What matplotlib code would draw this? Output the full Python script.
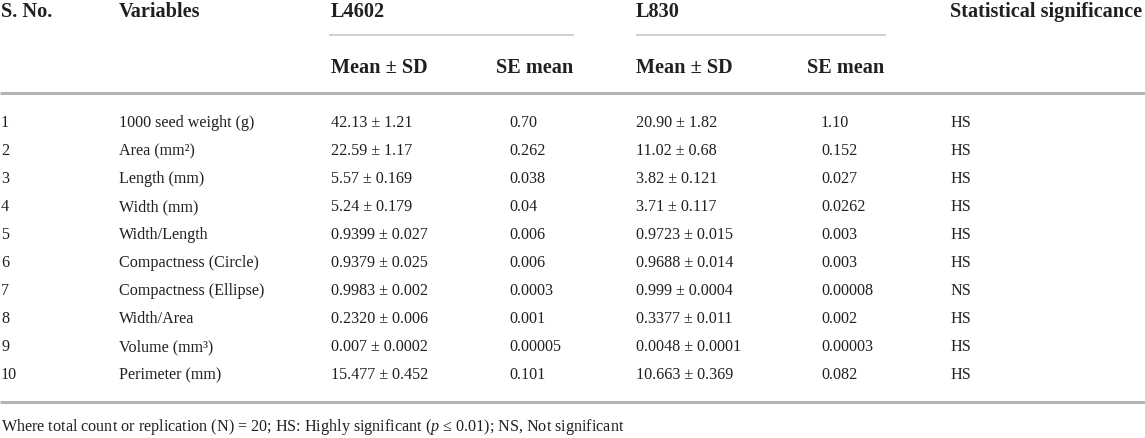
import matplotlib
matplotlib.use("Agg")
import matplotlib.pyplot as plt

plt.rcParams['font.family'] = ['Liberation Serif', 'DejaVu Serif']
plt.rcParams['mathtext.fontset'] = 'custom'
plt.rcParams['mathtext.rm'] = 'Liberation Serif'
plt.rcParams['mathtext.it'] = 'Liberation Serif:italic'

# table data
sno = ['1', '2', '3', '4', '5', '6', '7', '8', '9', '10']
variables = ['1000 seed weight (g)', 'Area (mm²)', 'Length (mm)', 'Width (mm)',
             'Width/Length', 'Compactness (Circle)', 'Compactness (Ellipse)',
             'Width/Area', 'Volume (mm³)', 'Perimeter (mm)']
l4602_mean_sd = ['42.13 ± 1.21', '22.59 ± 1.17', '5.57 ± 0.169', '5.24 ± 0.179',
                 '0.9399 ± 0.027', '0.9379 ± 0.025', '0.9983 ± 0.002',
                 '0.2320 ± 0.006', '0.007 ± 0.0002', '15.477 ± 0.452']
l4602_se = ['0.70', '0.262', '0.038', '0.04', '0.006', '0.006', '0.0003',
            '0.001', '0.00005', '0.101']
l830_mean_sd = ['20.90 ± 1.82', '11.02 ± 0.68', '3.82 ± 0.121', '3.71 ± 0.117',
                '0.9723 ± 0.015', '0.9688 ± 0.014', '0.999 ± 0.0004',
                '0.3377 ± 0.011', '0.0048 ± 0.0001', '10.663 ± 0.369']
l830_se = ['1.10', '0.152', '0.027', '0.0262', '0.003', '0.003', '0.00008',
           '0.002', '0.00003', '0.082']
significance = ['HS', 'HS', 'HS', 'HS', 'HS', 'HS', 'NS', 'HS', 'HS', 'HS']

footnote = ('Where total count or replication (N) = 20; HS: Highly significant '
            '($p$ ≤ 0.01); NS, Not significant')

txt = '#231f20'
head_size = 14.6
body_size = 11.6

fig = plt.figure(figsize=(11.45, 4.39), dpi=100)
ax = fig.add_axes([0, 0, 1, 1])
ax.set_xlim(0, 1145)
ax.set_ylim(439, 0)
ax.axis('off')

# column left edges
col_x = [1, 119, 331, 509, 636, 821, 950]

# header
head_kw = dict(fontsize=head_size, fontweight='bold', color=txt, va='baseline', ha='left')
ax.text(col_x[0], 17, 'S. No.', **head_kw)
ax.text(col_x[1], 17, 'Variables', **head_kw)
ax.text(col_x[2], 17, 'L4602', **head_kw)
ax.text(col_x[4], 17, 'L830', **head_kw)
ax.text(col_x[6], 17, 'Statistical significance', **head_kw)
ax.text(col_x[2], 73, 'Mean ± SD', **head_kw)
ax.text(496, 73, 'SE mean', **head_kw)
ax.text(col_x[4], 73, 'Mean ± SD', **head_kw)
ax.text(807, 73, 'SE mean', **head_kw)

# rules
ax.hlines(36, 329, 574, color='#c8c8c8', lw=1.2)
ax.hlines(36, 636, 886, color='#c8c8c8', lw=1.2)
ax.hlines(94, 0, 1145, color='#b4b4b4', lw=2.2)
ax.hlines(403, 0, 1145, color='#b4b4b4', lw=2.2)

# body rows
columns = [sno, variables, l4602_mean_sd, l4602_se, l830_mean_sd, l830_se, significance]
row0, row_step = 127.5, 28
for i in range(len(sno)):
    y = row0 + i * row_step
    for x, col in zip(col_x, columns):
        ax.text(x, y, col[i], fontsize=body_size, color=txt, va='baseline', ha='left')

ax.text(1, 431, footnote, fontsize=body_size, color=txt, va='baseline', ha='left')

fig.savefig('out.png', dpi=100)
